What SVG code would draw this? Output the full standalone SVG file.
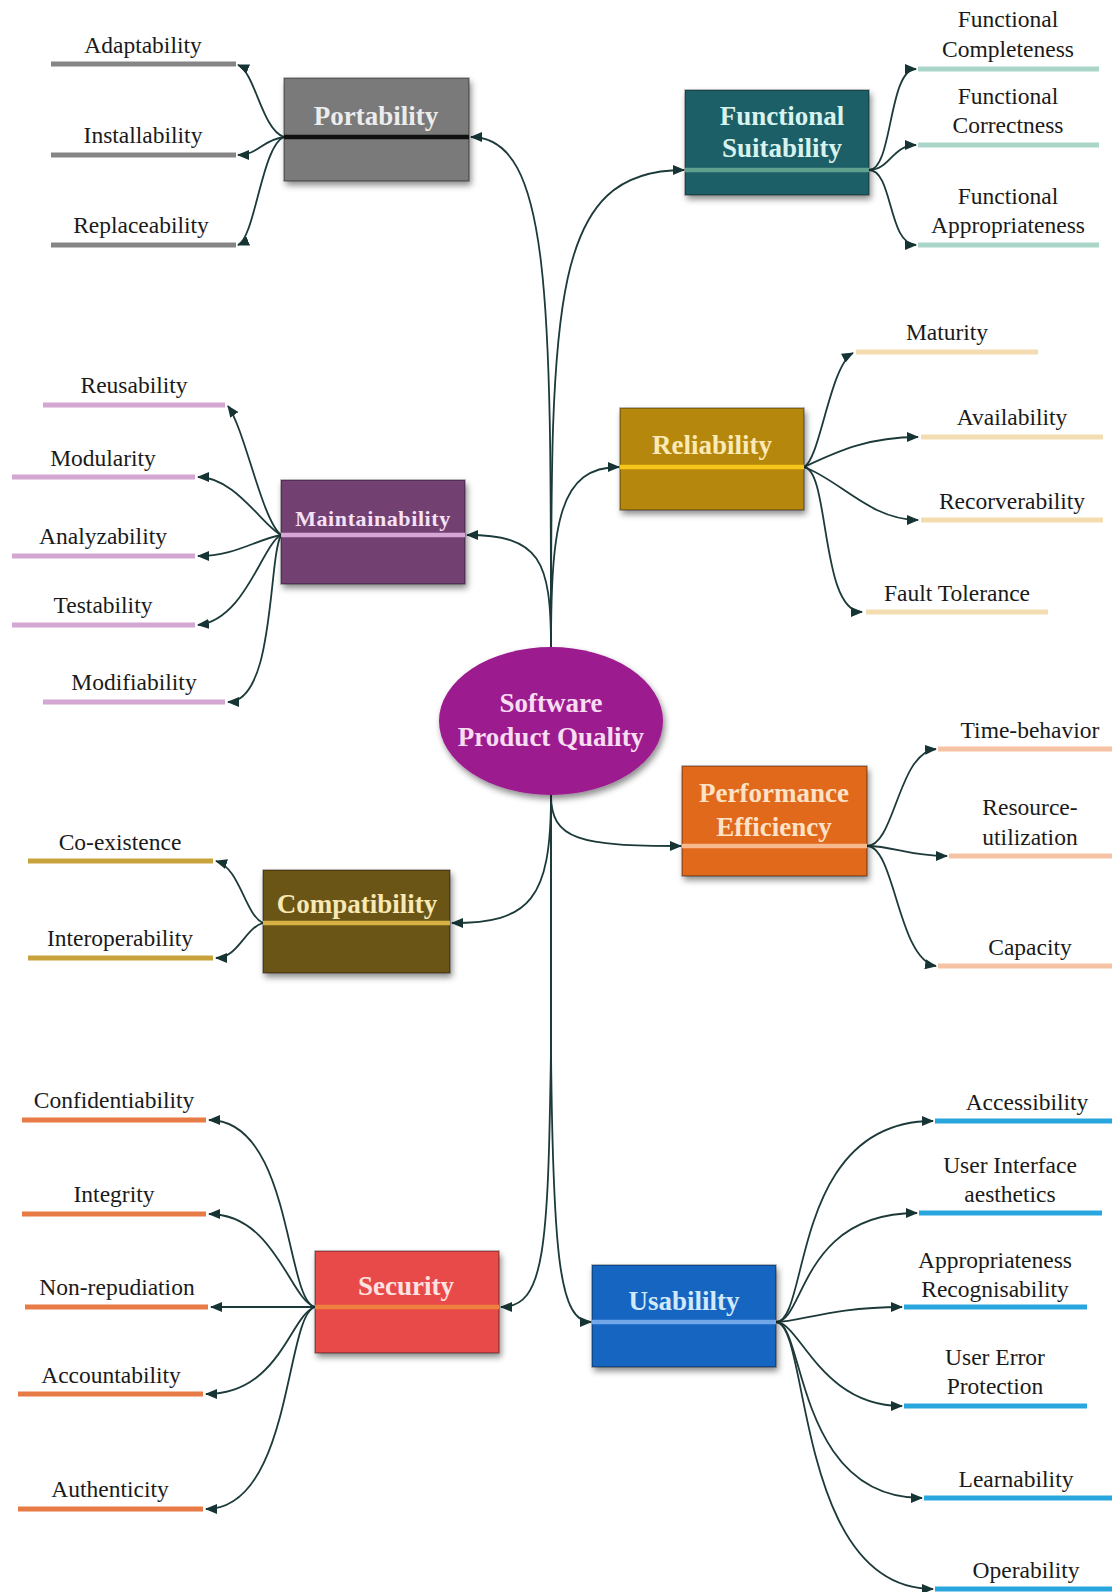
<svg xmlns="http://www.w3.org/2000/svg" width="1112" height="1592" viewBox="0 0 1112 1592">
<defs>
<marker id="ah" markerUnits="userSpaceOnUse" markerWidth="12" markerHeight="10" refX="11" refY="5" orient="auto"><path d="M0,0 L12,5 L0,10 z" fill="#163434"/></marker>
<filter id="sh" x="-10%" y="-10%" width="125%" height="135%"><feDropShadow dx="2" dy="4" stdDeviation="3" flood-color="#000" flood-opacity="0.45"/></filter>
</defs>
<style>
.bx{stroke:rgba(0,0,0,0.35);stroke-width:1.5;filter:url(#sh)}
.st{stroke-width:4.5}
.bl{font-family:"Liberation Serif","Times New Roman",serif;font-weight:bold;font-size:27px;text-anchor:middle}
.lf{font-family:"Liberation Serif","Times New Roman",serif;font-size:23.5px;fill:#1a1a1a;text-anchor:middle}
.cn path{fill:none;stroke:#1d3a3a;stroke-width:1.8;marker-end:url(#ah)}
.ln{stroke-width:5;stroke-linecap:butt}
</style>
<rect width="1112" height="1592" fill="#ffffff"/>

<g id="connectors" class="cn">
<path d="M551 648 C551 300 551 137 471 137"/>
<path d="M551 648 C551 300 551 170 684 170"/>
<path d="M551 648 C551 560 540 535 467 535"/>
<path d="M551 648 C551 520 560 467 619 467"/>
<path d="M551 795 C551 900 530 923 452 923"/>
<path d="M551 795 C551 840 580 846 681 846"/>
<path d="M551 795 L551 1050 C548 1250 545 1307 501 1307"/>
<path d="M551 795 L551 1050 C553 1260 560 1322 591 1322"/>
<path d="M284 137 C262 130 255 72 238 65"/>
<path d="M284 137 C262 140 258 155 238 155"/>
<path d="M284 137 C262 145 255 238 238 245"/>
<path d="M869 170 C893 170 888 69 916 69"/>
<path d="M869 170 C890 170 892 145 916 145"/>
<path d="M869 170 C893 170 888 245 916 245"/>
<path d="M281 535 C262 520 245 430 228 406"/>
<path d="M281 535 C262 525 235 477 198 477"/>
<path d="M281 535 C255 540 235 556 198 556"/>
<path d="M281 535 C262 545 245 620 198 625"/>
<path d="M281 535 C268 560 275 702 228 702"/>
<path d="M804 467 C820 460 830 365 853 353"/>
<path d="M804 467 C840 450 870 437 918 437"/>
<path d="M804 467 C840 480 870 520 918 520"/>
<path d="M804 467 C830 470 820 612 862 612"/>
<path d="M867 846 C895 846 898 752 936 749"/>
<path d="M867 846 C895 846 905 856 947 856"/>
<path d="M867 846 C895 846 898 960 936 966"/>
<path d="M263 923 C245 915 240 868 216 861"/>
<path d="M263 923 C245 928 238 958 216 958"/>
<path d="M315 1307 C285 1300 292 1120 209 1120"/>
<path d="M315 1307 C290 1300 275 1214 209 1214"/>
<path d="M315 1307 L211 1307"/>
<path d="M315 1307 C290 1315 280 1394 206 1394"/>
<path d="M315 1307 C285 1315 292 1509 206 1509"/>
<path d="M776 1322 C810 1322 790 1121 933 1121"/>
<path d="M776 1322 C805 1322 800 1213 917 1213"/>
<path d="M776 1322 C800 1322 830 1307 902 1307"/>
<path d="M776 1322 C800 1322 820 1406 902 1406"/>
<path d="M776 1322 C805 1322 795 1498 922 1498"/>
<path d="M776 1322 C810 1322 795 1589 933 1589"/>
</g>

<g id="center">
<ellipse cx="551" cy="721" rx="112" ry="74" fill="#9c1a8f" filter="url(#sh)"/>
<text class="bl" x="551" y="712" fill="#f7dcf2">Software</text>
<text class="bl" x="551" y="746" fill="#f7dcf2">Product Quality</text>
</g>

<g id="portability">
<rect class="bx" x="284" y="78" width="185" height="103" fill="#7a7a7a"/>
<line class="st" x1="284" y1="137" x2="469" y2="137" stroke="#111"/>
<text class="bl" x="376" y="125" fill="#ececec">Portability</text>
</g>
<g id="portability-leaves">
<line class="ln" x1="51" y1="64" x2="236" y2="64" stroke="#858585"/>
<text class="lf" x="143" y="53">Adaptability</text>
<line class="ln" x1="51" y1="155" x2="236" y2="155" stroke="#858585"/>
<text class="lf" x="143" y="143">Installability</text>
<line class="ln" x1="51" y1="245" x2="236" y2="245" stroke="#858585"/>
<text class="lf" x="141" y="233">Replaceability</text>
</g>

<g id="functional-suitability">
<rect class="bx" x="685" y="90" width="184" height="105" fill="#1f5f66"/>
<line class="st" x1="685" y1="170" x2="869" y2="170" stroke="#5fa08e"/>
<text class="bl" x="782" y="125" fill="#d8f3ef">Functional</text>
<text class="bl" x="782" y="157" fill="#d8f3ef">Suitability</text>
</g>
<g id="fs-leaves">
<line class="ln" x1="918" y1="69" x2="1099" y2="69" stroke="#a9d6c8"/>
<text class="lf" x="1008" y="27">Functional</text>
<text class="lf" x="1008" y="57">Completeness</text>
<line class="ln" x1="918" y1="145" x2="1099" y2="145" stroke="#a9d6c8"/>
<text class="lf" x="1008" y="104">Functional</text>
<text class="lf" x="1008" y="133">Correctness</text>
<line class="ln" x1="918" y1="245" x2="1099" y2="245" stroke="#a9d6c8"/>
<text class="lf" x="1008" y="204">Functional</text>
<text class="lf" x="1008" y="233">Appropriateness</text>
</g>

<g id="maintainability">
<rect class="bx" x="281" y="480" width="184" height="104" fill="#733f72"/>
<line class="st" x1="281" y1="535" x2="465" y2="535" stroke="#d6a6d6"/>
<text class="bl" x="373" y="526" fill="#f6e2f6" style="font-size:22px;letter-spacing:0.6px">Maintainability</text>
</g>
<g id="maintainability-leaves">
<line class="ln" x1="43" y1="405" x2="225" y2="405" stroke="#d4a6d2"/>
<text class="lf" x="134" y="393">Reusability</text>
<line class="ln" x1="12" y1="477" x2="195" y2="477" stroke="#d4a6d2"/>
<text class="lf" x="103" y="466">Modularity</text>
<line class="ln" x1="12" y1="556" x2="195" y2="556" stroke="#d4a6d2"/>
<text class="lf" x="103" y="544">Analyzability</text>
<line class="ln" x1="12" y1="625" x2="195" y2="625" stroke="#d4a6d2"/>
<text class="lf" x="103" y="613">Testability</text>
<line class="ln" x1="43" y1="702" x2="225" y2="702" stroke="#d4a6d2"/>
<text class="lf" x="134" y="690">Modifiability</text>
</g>

<g id="reliability">
<rect class="bx" x="620" y="408" width="184" height="102" fill="#b5870f"/>
<line class="st" x1="620" y1="467" x2="804" y2="467" stroke="#f6c61a"/>
<text class="bl" x="712" y="454" fill="#fbeab5">Reliability</text>
</g>
<g id="reliability-leaves">
<line class="ln" x1="856" y1="352" x2="1038" y2="352" stroke="#f3ddb0"/>
<text class="lf" x="947" y="340">Maturity</text>
<line class="ln" x1="921" y1="437" x2="1103" y2="437" stroke="#f3ddb0"/>
<text class="lf" x="1012" y="425">Availability</text>
<line class="ln" x1="921" y1="520" x2="1103" y2="520" stroke="#f3ddb0"/>
<text class="lf" x="1012" y="509">Recorverability</text>
<line class="ln" x1="866" y1="612" x2="1048" y2="612" stroke="#f3ddb0"/>
<text class="lf" x="957" y="601">Fault Tolerance</text>
</g>

<g id="performance-efficiency">
<rect class="bx" x="682" y="766" width="185" height="110" fill="#e0691e"/>
<line class="st" x1="682" y1="846" x2="867" y2="846" stroke="#f7b98e"/>
<text class="bl" x="774" y="802" fill="#fde2c6">Performance</text>
<text class="bl" x="774" y="836" fill="#fde2c6">Efficiency</text>
</g>
<g id="pe-leaves">
<line class="ln" x1="938" y1="749" x2="1112" y2="749" stroke="#f5c3a3"/>
<text class="lf" x="1030" y="738">Time-behavior</text>
<line class="ln" x1="949" y1="856" x2="1112" y2="856" stroke="#f5c3a3"/>
<text class="lf" x="1030" y="815">Resource-</text>
<text class="lf" x="1030" y="845">utilization</text>
<line class="ln" x1="938" y1="966" x2="1112" y2="966" stroke="#f5c3a3"/>
<text class="lf" x="1030" y="955">Capacity</text>
</g>

<g id="compatibility">
<rect class="bx" x="263" y="870" width="187" height="103" fill="#6b5412"/>
<line class="st" x1="263" y1="923" x2="450" y2="923" stroke="#d8b043"/>
<text class="bl" x="357" y="913" fill="#f8e8b4">Compatibility</text>
</g>
<g id="compatibility-leaves">
<line class="ln" x1="28" y1="861" x2="213" y2="861" stroke="#c8a23a"/>
<text class="lf" x="120" y="850">Co-existence</text>
<line class="ln" x1="28" y1="958" x2="213" y2="958" stroke="#c8a23a"/>
<text class="lf" x="120" y="946">Interoperability</text>
</g>

<g id="security">
<rect class="bx" x="315" y="1251" width="184" height="102" fill="#e84a4a"/>
<line class="st" x1="315" y1="1307" x2="499" y2="1307" stroke="#f08040"/>
<text class="bl" x="406" y="1295" fill="#fde2e0">Security</text>
</g>
<g id="security-leaves">
<line class="ln" x1="22" y1="1120" x2="206" y2="1120" stroke="#e87b45"/>
<text class="lf" x="114" y="1108">Confidentiability</text>
<line class="ln" x1="22" y1="1214" x2="206" y2="1214" stroke="#e87b45"/>
<text class="lf" x="114" y="1202">Integrity</text>
<line class="ln" x1="25" y1="1307" x2="208" y2="1307" stroke="#e87b45"/>
<text class="lf" x="117" y="1295">Non-repudiation</text>
<line class="ln" x1="18" y1="1394" x2="203" y2="1394" stroke="#e87b45"/>
<text class="lf" x="111" y="1383">Accountability</text>
<line class="ln" x1="18" y1="1509" x2="203" y2="1509" stroke="#e87b45"/>
<text class="lf" x="110" y="1497">Authenticity</text>
</g>

<g id="usability">
<rect class="bx" x="592" y="1265" width="184" height="102" fill="#1565c0"/>
<line class="st" x1="592" y1="1322" x2="776" y2="1322" stroke="#72a8e8"/>
<text class="bl" x="684" y="1310" fill="#d2e8fb">Usabililty</text>
</g>
<g id="usability-leaves">
<line class="ln" x1="935" y1="1121" x2="1112" y2="1121" stroke="#2aa6de"/>
<text class="lf" x="1027" y="1110">Accessibility</text>
<line class="ln" x1="919" y1="1213" x2="1102" y2="1213" stroke="#2aa6de"/>
<text class="lf" x="1010" y="1173">User Interface</text>
<text class="lf" x="1010" y="1202">aesthetics</text>
<line class="ln" x1="904" y1="1307" x2="1087" y2="1307" stroke="#2aa6de"/>
<text class="lf" x="995" y="1268">Appropriateness</text>
<text class="lf" x="995" y="1297">Recognisability</text>
<line class="ln" x1="904" y1="1406" x2="1087" y2="1406" stroke="#2aa6de"/>
<text class="lf" x="995" y="1365">User Error</text>
<text class="lf" x="995" y="1394">Protection</text>
<line class="ln" x1="924" y1="1498" x2="1112" y2="1498" stroke="#2aa6de"/>
<text class="lf" x="1016" y="1487">Learnability</text>
<line class="ln" x1="935" y1="1589" x2="1112" y2="1589" stroke="#2aa6de"/>
<text class="lf" x="1026" y="1578">Operability</text>
</g>
</svg>
